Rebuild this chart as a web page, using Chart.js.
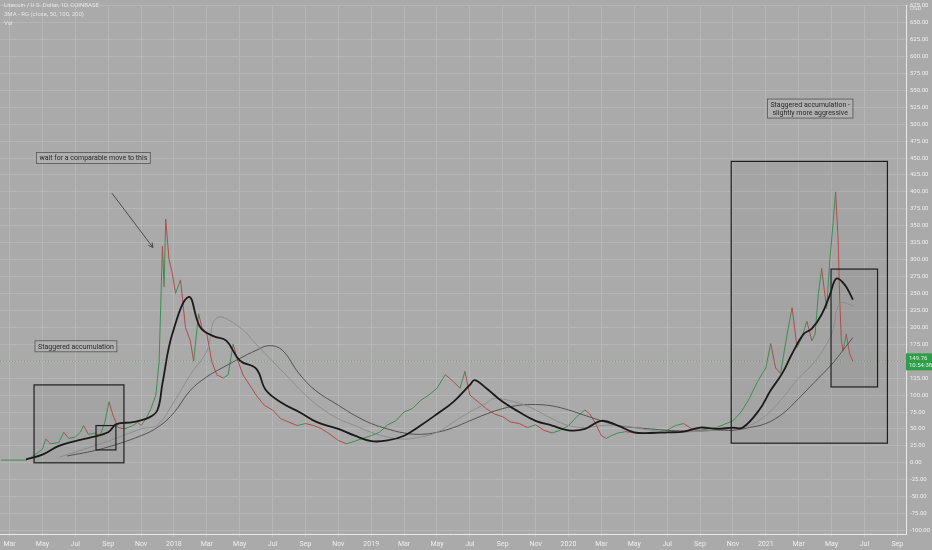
<!DOCTYPE html>
<html><head><meta charset="utf-8">
<script src="https://cdn.jsdelivr.net/npm/chart.js@4"></script>
<style>html,body{margin:0;padding:0;background:#aaaaaa;}#c{display:block;}</style>
</head><body><canvas id="c" width="932" height="550"></canvas>
<script>
// x = months since Jan 2017
const priceMonths=[1.5,2,3,3.3,3.6,4,4.2,4.5,5,5.3,5.6,6,6.3,6.5,6.8,7.2,7.5,7.8,8.05,8.3,8.6,9,9.5,9.8,10,10.3,10.6,10.9,11.1,11.3,11.4,11.5,11.7,11.9,12.1,12.4,12.7,13,13.2,13.5,13.7,14,14.3,14.6,15,15.3,15.6,15.9,16.2,16.6,17,17.5,18,18.5,19,19.5,20,20.5,21,21.5,22,22.5,23,23.5,24,24.5,25,25.5,26,26.5,27,27.5,28,28.5,29,29.4,29.7,30,30.5,31,31.5,32,32.5,33,33.5,34,34.5,35,35.5,36,36.5,37,37.3,37.6,38,38.3,38.6,39,39.5,40,40.5,41,41.5,42,42.5,43,43.5,44,44.5,45,45.5,46,46.5,47,47.5,48,48.3,48.6,48.9,49.3,49.6,49.9,50.2,50.5,50.8,51,51.2,51.4,51.7,51.9,52.1,52.25,52.4,52.5,52.6,52.7,52.9,53.1,53.3];
const priceValues=[4,4,4,8,13,20,35,28,30,45,36,38,45,55,42,44,40,60,90,70,52,50,55,60,55,65,80,100,150,320,260,360,300,280,250,270,200,180,150,220,200,190,150,130,125,130,175,150,130,115,100,85,78,65,60,55,58,55,50,42,33,28,32,36,40,45,56,62,75,80,92,100,110,130,120,110,135,100,90,80,72,68,60,58,52,56,48,44,48,55,68,78,72,60,40,36,40,44,46,44,43,45,46,48,55,58,50,48,50,52,57,62,75,95,120,140,176,140,132,190,229,170,185,209,180,190,250,287,228,300,355,400,330,240,180,165,190,161,149.76];
const sma50Months=[3,4,5,6,7,8,8.5,9.5,10.5,11,11.3,11.9,12.9,13.6,14.4,15.2,16,17,17.6,18.6,19.7,20.7,22,23,24,25,26,27,28,29,30,30.3,31,32,33,34,35,36,37,38,39,40,41,42,43,44,45,46,46.6,47.6,48.3,49,49.6,50.3,50.8,51.4,51.9,52.3,52.8,53.3];
const sma50Values=[5,12,25,32,38,45,57,60,67,78,117,190,245,200,187,180,151,139,107,88,74,60,50,40,32,33,40,55,72,90,115,122,110,90,75,62,55,48,50,62,55,45,44,45,46,52,50,52,52,78,107,132,161,190,198,219,248,272,263,241];
const sma100Months=[5,8,10,11,12,13,14,14.6,16,17,18,19,20,21,22,23,24,25,26,27,28,29,30,31,31.5,33,34,35,36,37,38,39,40,41,42,43,44,45,46,47,48,49,50,51,52,52.5,53.3];
const sma100Values=[8,32,50,56,90,130,165,214,200,175,150,125,100,80,65,55,45,38,35,38,45,60,75,88,95,88,78,65,55,52,55,55,52,48,45,45,47,48,50,55,70,95,125,150,190,235,232];
const sma200Months=[5.5,7.5,10,11.1,12,13,14,15,16,17,17.8,18.6,19.6,20.6,22,23,24,25,26,27,28,29,30,31,32,33,34,35,36,37,38,39,40,41,42,43,44,45,46,47,48,49,50,51,52,52.5,53.3];
const sma200Values=[10,20,40,54,74,107,127,141,154,166,173,166,132,107,85,70,58,50,44,42,45,52,62,72,80,85,86,84,78,70,62,55,52,50,48,47,47,48,48,52,58,72,95,120,145,160,185];
const tickMonths=[2,4,6,8,10,12,14,16,18,20,22,24,26,28,30,32,34,36,38,40,42,44,46,48,50,52,54,56];
const tickLabels=['Mar','May','Jul','Sep','Nov','2018','Mar','May','Jul','Sep','Nov','2019','Mar','May','Jul','Sep','Nov','2020','Mar','May','Jul','Sep','Nov','2021','Mar','May','Jul','Sep'];
// boxes: [m0,m1,pTop,pBottom]
const boxes=[[3.49,8.96,115,0],[7.26,8.47,55,19],[45.9,55.4,445,29],[51.97,54.8,286,112]];
const lastPrice=149.76;

const pts=(xs,ys)=>xs.map((x,i)=>({x,y:ys[i]}));
const FONT='"Liberation Sans Narrow","Roboto",sans-serif';

const overlay={id:'overlay',
 beforeDatasetsDraw(ch){
  const {ctx,scales:{x,y}}=ch;ctx.save();
  boxes.forEach(b=>{const x0=x.getPixelForValue(b[0]),x1=x.getPixelForValue(b[1]),y0=y.getPixelForValue(b[2]),y1=y.getPixelForValue(b[3]);
   ctx.fillStyle='rgba(0,0,0,0.035)';ctx.fillRect(x0,y0,x1-x0,y1-y0);});
  ctx.restore();},
 afterDatasetsDraw(ch){
  const {ctx,scales:{x,y},chartArea:ca}=ch;ctx.save();
  boxes.forEach(b=>{const x0=x.getPixelForValue(b[0]),x1=x.getPixelForValue(b[1]),y0=y.getPixelForValue(b[2]),y1=y.getPixelForValue(b[3]);
   ctx.strokeStyle='#1e1e1e';ctx.lineWidth=1.2;ctx.strokeRect(x0,y0,x1-x0,y1-y0);});
  const yp=y.getPixelForValue(lastPrice);
  ctx.strokeStyle='rgba(60,140,60,0.5)';ctx.lineWidth=1;ctx.setLineDash([1,2]);
  ctx.beginPath();ctx.moveTo(ca.left,yp);ctx.lineTo(ca.right,yp);ctx.stroke();ctx.setLineDash([]);
  ctx.fillStyle='#2e9e4a';ctx.fillRect(ca.right,yp-8,26,17);
  ctx.fillStyle='#e6f4e6';ctx.font='6px '+FONT;ctx.textAlign='left';ctx.textBaseline='middle';
  ctx.fillText(lastPrice.toFixed(2),ca.right+3,yp-3);ctx.fillText('10:54:38',ca.right+3,yp+4);
  function label(lines,cx,cy){ctx.font='7px '+FONT;const w=Math.max(...lines.map(l=>ctx.measureText(l).width))+6;const h=lines.length*8+3;
   ctx.fillStyle='rgba(180,180,180,0.6)';ctx.fillRect(cx-w/2,cy-h/2,w,h);ctx.strokeStyle='#555';ctx.lineWidth=0.8;ctx.strokeRect(cx-w/2,cy-h/2,w,h);
   ctx.fillStyle='#2a2a2a';ctx.textAlign='center';ctx.textBaseline='middle';lines.forEach((l,i)=>ctx.fillText(l,cx,cy-h/2+6+i*8));}
  label(['wait for a comparable move to this'],x.getPixelForValue(7.1),y.getPixelForValue(450));
  label(['Staggered accumulation'],x.getPixelForValue(6.04),y.getPixelForValue(172));
  label(['Staggered accumulation -','slightly more aggressive'],x.getPixelForValue(50.7),y.getPixelForValue(523));
  const ax0=x.getPixelForValue(8.23),ay0=y.getPixelForValue(398),ax1=x.getPixelForValue(10.72),ay1=y.getPixelForValue(318);
  ctx.strokeStyle='#333';ctx.lineWidth=0.8;ctx.beginPath();ctx.moveTo(ax0,ay0);ctx.lineTo(ax1,ay1);ctx.stroke();
  const an=Math.atan2(ay1-ay0,ax1-ax0);ctx.beginPath();ctx.moveTo(ax1-5*Math.cos(an-0.5),ay1-5*Math.sin(an-0.5));ctx.lineTo(ax1,ay1);ctx.lineTo(ax1-5*Math.cos(an+0.5),ay1-5*Math.sin(an+0.5));ctx.stroke();
  ctx.fillStyle='#e4e4e4';ctx.font='6px '+FONT;ctx.textAlign='left';ctx.textBaseline='middle';
  ctx.fillText('Litecoin / U.S. Dollar, 1D, COINBASE',4,5);ctx.fillText('3MA - RG (close, 50, 100, 200)',4,14);ctx.fillText('Vol',4,23);
  ctx.fillText('USD',910,8);
  ctx.restore();}
};

new Chart(document.getElementById('c'),{
 type:'line',
 data:{datasets:[
  {data:pts(sma50Months,sma50Values),borderColor:'#1a1a1a',borderWidth:1.8,pointRadius:0,tension:0.4},
  {data:pts(sma100Months,sma100Values),borderColor:'#8a8a8a',borderWidth:0.9,pointRadius:0,tension:0.4},
  {data:pts(sma200Months,sma200Values),borderColor:'#4a4a4a',borderWidth:0.9,pointRadius:0,tension:0.4},
  {data:pts(priceMonths,priceValues),borderWidth:1,pointRadius:0,tension:0,
   segment:{borderColor:c=>c.p1.parsed.y>=c.p0.parsed.y?'#3c8f52':'#b54a4a'}}
 ]},
 options:{responsive:false,animation:false,events:[],
  layout:{padding:0},
  plugins:{legend:{display:false},tooltip:{enabled:false}},
  scales:{
   x:{type:'linear',min:1.42,max:56.53,
    afterBuildTicks:s=>{s.ticks=tickMonths.map(v=>({value:v}));},
    ticks:{autoSkip:false,maxRotation:0,color:'#eeeeee',font:{size:7,family:FONT},padding:2,callback:v=>tickLabels[tickMonths.indexOf(v)]},
    grid:{color:'#b6b6b6',lineWidth:1,drawTicks:true,tickLength:3},border:{color:'#e8e8e8'}},
   y:{position:'right',min:-106,max:675,
    afterBuildTicks:s=>{const t=[];for(let v=-100;v<=675;v+=25)t.push({value:v});s.ticks=t;},
    afterFit:s=>{s.width=26;},
    ticks:{color:'#eeeeee',font:{size:6,family:FONT},padding:2,callback:v=>v.toFixed(2)},
    grid:{color:'#b6b6b6',lineWidth:1,tickLength:2},border:{color:'#e8e8e8'}}
  }},
 plugins:[overlay]
});
</script></body></html>
